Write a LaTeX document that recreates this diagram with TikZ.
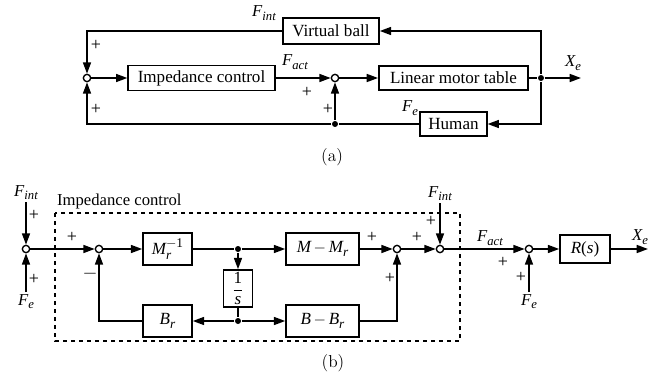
\documentclass[tikz,border=0pt]{standalone}
\usepackage{amsmath}
\usepackage{fontspec}
\usepackage{tikz}
\usetikzlibrary{arrows.meta}
\newfontfamily\tms{Liberation Serif}
% signal name with italic subscript
\newcommand{\sgn}[2]{{\tms\itshape #1\raisebox{-0.45ex}{\fontsize{9.5}{10}\selectfont #2}}}
\tikzset{
    block/.style={
           rectangle,
           draw=black, line width=1.2pt,
           inner sep=1pt,
           font=\tms\fontsize{12.8}{13}\selectfont,
           text centered,
           },
    sumj/.style={
           circle,
           draw=black, line width=1pt,
           fill=white,
           inner sep=0pt,
           minimum size=5.5pt,
           },
    dot/.style={
           circle,
           fill=black,
           inner sep=0pt,
           minimum size=4.5pt,
           },
    sig/.style={inner sep=1pt, font=\tms\fontsize{12.5}{13}\selectfont},
    sign/.style={inner sep=0pt, font=\tms\fontsize{13.5}{14}\selectfont},
}

\begin{document}
\begin{tikzpicture}[x=0.75pt, y=-0.75pt, line width=1.2pt,
    >={Triangle[length=8.5pt, width=6pt]}]
    \useasboundingbox (0,0) rectangle (664,385);

    % ---------- (a) overall loop ----------
    \node[sumj] (sa1) at (87,78) {};
    \node[sumj] (sa2) at (335,78) {};
    \node[dot] (bra) at (541,78) {};
    \node[dot] (bda) at (335,124) {};
    \coordinate (xea) at (581,78);

    \node[block, minimum width=110pt, minimum height=19pt] (imp) at (201.5,78) {Impedance control};
    \node[block, minimum width=112pt, minimum height=18pt] (lmt) at (453.5,78) {Linear motor table};
    \node[block, minimum width=72pt, minimum height=19.5pt] (vball) at (331,31) {Virtual ball};
    \node[block, minimum width=50pt, minimum height=18pt] (human) at (453.5,124) {Human};

    \draw[->] (sa1) -- (imp);
    \draw[->] (imp) -- (sa2);
    \draw[->] (sa2) -- (lmt);
    \draw (lmt) -- (bra);
    \draw[->] (bra) -- (xea);
    \draw[->] (bra) |- (vball);
    \draw[->] (vball) -| (sa1);
    \draw[->] (bra) |- (human);
    \draw (human) -- (bda);
    \draw[->] (bda) -| (sa1);
    \draw[->] (bda) -- (sa2);

    % signal names and signs
    \node[sig] at (264,13) {\sgn{F}{int}};
    \node[sig] at (295,62) {\sgn{F}{act}};
    \node[sig] at (573,63) {\sgn{X}{e}};
    \node[sig] at (410,108) {\sgn{F}{e}};
    \node[sign] at (96,45) {+};
    \node[sign] at (96,109) {+};
    \node[sign] at (307,92) {+};
    \node[sign] at (328,109) {+};

    \node[font=\fontsize{13}{14}\selectfont] at (332,157) {(a)};

    % ---------- (b) impedance control in detail ----------
    \draw[dashed, line width=1pt] (55,213) rectangle (460,341);
    \node[sig, anchor=south west] (imptitle) at (55,211) {Impedance control};

    \node[sumj] (sb1) at (26,249) {};
    \node[sumj] (sb2) at (99,249) {};
    \node[sumj] (sb3) at (397,249) {};
    \node[sumj] (sb4) at (440,249) {};
    \node[sumj] (sb5) at (529,249) {};
    \node[dot] (d1) at (238,249) {};
    \node[dot] (d2) at (238,321) {};

    \node[block, minimum width=36.75pt, minimum height=24pt] (minv) at (167.5,249)
        {\itshape M\rlap{\raisebox{-0.6ex}{\fontsize{10}{10}\selectfont r}}\raisebox{0.9ex}{\fontsize{10}{10}\selectfont\upshape $-$1}};
    \node[block, minimum width=21.75pt, minimum height=27.75pt, inner sep=0pt] (integ) at (238,288.5)
        {$\dfrac{\text{1}}{\text{\itshape s}}$};
    \node[block, minimum width=36.75pt, minimum height=24pt] (bdamp) at (167.5,321)
        {\itshape B\raisebox{-0.5ex}{\fontsize{10}{10}\selectfont r}};
    \node[block, minimum width=54.75pt, minimum height=24pt] (mdiff) at (322.5,249)
        {\itshape M\upshape$\,-\,$\itshape M\raisebox{-0.5ex}{\fontsize{10}{10}\selectfont r}};
    \node[block, minimum width=54.75pt, minimum height=24pt] (bdiff) at (322.5,321)
        {\itshape B\upshape$\,-\,$\itshape B\raisebox{-0.5ex}{\fontsize{10}{10}\selectfont r}};
    \node[block, minimum width=37.5pt, minimum height=21pt] (plant) at (585,249)
        {\itshape R\upshape(\itshape s\upshape)};

    % external inputs
    \node[sig, anchor=south] (fint1) at (26,202) {\sgn{F}{int}};
    \node[sig, anchor=north] (fe1) at (26,292) {\sgn{F}{e}};
    \node[sig, anchor=south] (fint2) at (440,203) {\sgn{F}{int}};
    \node[sig, anchor=north] (fe2) at (529,292) {\sgn{F}{e}};
    \coordinate (xeb) at (648,249);

    \draw[->] (fint1) -- (sb1);
    \draw[->] (fe1) -- (sb1);
    \draw[->] (sb1) -- (sb2);
    \draw[->] (sb2) -- (minv);
    \draw (minv) -- (d1);
    \draw[->] (d1) -- (mdiff);
    \draw[->] (d1) -- (integ);
    \draw (integ) -- (d2);
    \draw[->] (d2) -- (bdamp);
    \draw[->] (d2) -- (bdiff);
    \draw[->] (bdamp) -| (sb2);
    \draw[->] (mdiff) -- (sb3);
    \draw[->] (bdiff) -| (sb3);
    \draw[->] (sb3) -- (sb4);
    \draw[->] (fint2) -- (sb4);
    \draw[->] (sb4) -- (sb5);
    \draw[->] (fe2) -- (sb5);
    \draw[->] (sb5) -- (plant);
    \draw[->] (plant) -- (xeb);

    % signal names and signs
    \node[sig] at (490,238) {\sgn{F}{act}};
    \node[sig] at (640,237) {\sgn{X}{e}};
    \node[sign] at (34,215) {+};
    \node[sign] at (34,279) {+};
    \node[sign] at (72,237) {+};
    \node[sign] at (90,274) {$-$};
    \node[sign] at (372,237) {+};
    \node[sign] at (390,278) {+};
    \node[sign] at (417,237) {+};
    \node[sign] at (431,221) {+};
    \node[sign] at (503,262) {+};
    \node[sign] at (521,277) {+};

    \node[font=\fontsize{13}{14}\selectfont] at (333,363) {(b)};
\end{tikzpicture}
\end{document}
